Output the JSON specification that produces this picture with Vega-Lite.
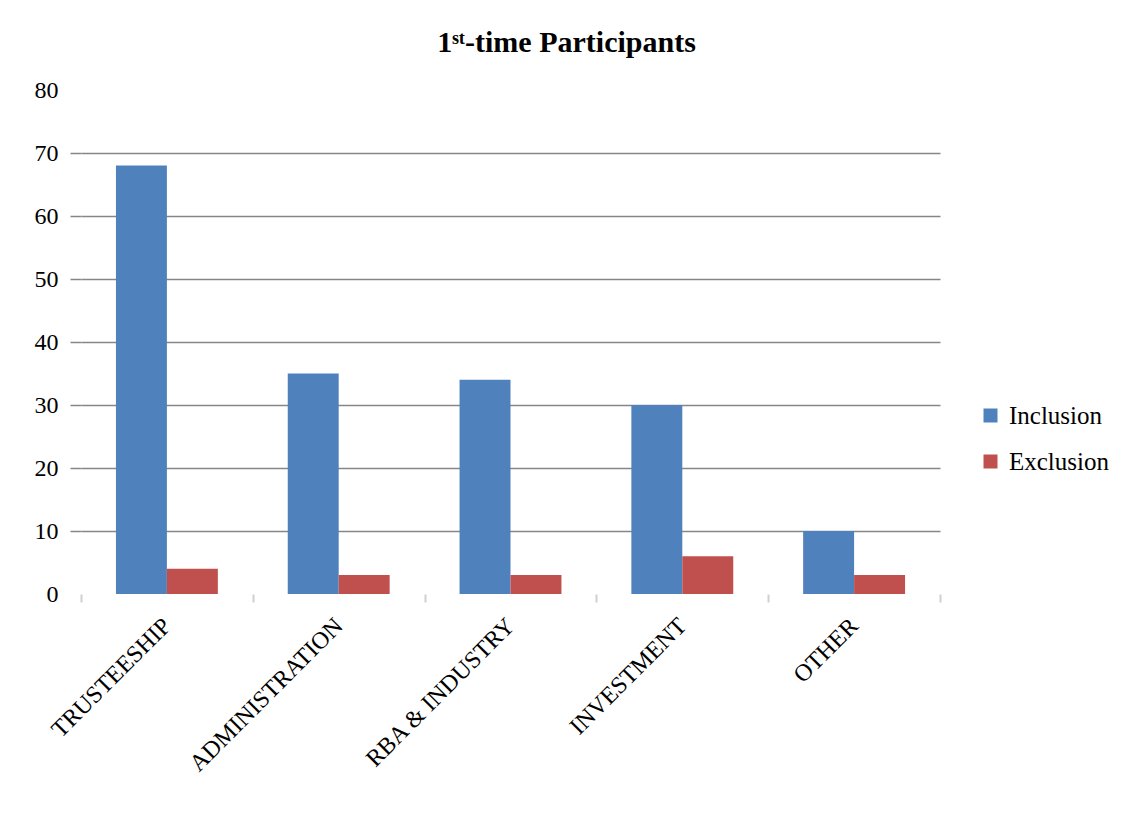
{
  "$schema": "https://vega.github.io/schema/vega-lite/v6.json",
  "autosize": "none",
  "padding": {"left": 81, "top": 90, "right": 184, "bottom": 223},
  "width": 859,
  "height": 504,
  "background": "white",
  "title": {
    "text": "1ˢᵗ-time Participants",
    "font": "Liberation Serif",
    "fontSize": 30,
    "fontWeight": "bold",
    "color": "#000000",
    "anchor": "middle",
    "dx": 56,
    "offset": 20
  },
  "data": {
    "values": [
      {"area": "TRUSTEESHIP", "group": "Inclusion", "count": 68},
      {"area": "TRUSTEESHIP", "group": "Exclusion", "count": 4},
      {"area": "ADMINISTRATION", "group": "Inclusion", "count": 35},
      {"area": "ADMINISTRATION", "group": "Exclusion", "count": 3},
      {"area": "RBA & INDUSTRY", "group": "Inclusion", "count": 34},
      {"area": "RBA & INDUSTRY", "group": "Exclusion", "count": 3},
      {"area": "INVESTMENT", "group": "Inclusion", "count": 30},
      {"area": "INVESTMENT", "group": "Exclusion", "count": 6},
      {"area": "OTHER", "group": "Inclusion", "count": 10},
      {"area": "OTHER", "group": "Exclusion", "count": 3}
    ]
  },
  "mark": {"type": "bar"},
  "encoding": {
    "x": {
      "field": "area",
      "type": "nominal",
      "sort": null,
      "scale": {"paddingInner": 0, "paddingOuter": 0},
      "axis": {
        "title": null,
        "domain": false,
        "tickBand": "extent",
        "ticks": true,
        "tickColor": "#d0d0d0",
        "tickWidth": 2,
        "tickSize": 8,
        "labelAngle": -45,
        "labelAlign": "right",
        "labelBaseline": "middle",
        "labelFont": "Liberation Serif",
        "labelFontSize": 24,
        "labelLimit": 0,
        "labelColor": "#000000",
        "labelPadding": 20
      }
    },
    "xOffset": {
      "field": "group",
      "type": "nominal",
      "sort": ["Inclusion", "Exclusion"],
      "scale": {"paddingInner": 0, "paddingOuter": 0.686}
    },
    "y": {
      "field": "count",
      "type": "quantitative",
      "scale": {"domain": [0, 80], "nice": false},
      "axis": {
        "title": null,
        "domain": false,
        "values": [0, 10, 20, 30, 40, 50, 60, 70, 80],
        "grid": true,
        "gridColor": "#868686",
        "gridWidth": 1.5,
        "gridOpacity": {"condition": {"test": "datum.value == 0 || datum.value == 80", "value": 0}, "value": 1},
        "tickColor": "#868686",
        "tickWidth": 1.5,
        "tickSize": 11,
        "tickOpacity": {"condition": {"test": "datum.value == 0 || datum.value == 80", "value": 0}, "value": 1},
        "labelFont": "Liberation Serif",
        "labelFontSize": 24,
        "labelColor": "#000000",
        "labelPadding": 12
      }
    },
    "color": {
      "field": "group",
      "type": "nominal",
      "sort": ["Inclusion", "Exclusion"],
      "scale": {"domain": ["Inclusion", "Exclusion"], "range": ["#4F81BD", "#C0504D"]},
      "legend": {
        "title": null,
        "orient": "none",
        "legendX": 897,
        "legendY": 313,
        "symbolType": "square",
        "symbolSize": 196,
        "symbolStrokeWidth": 0,
        "labelFont": "Liberation Serif",
        "labelFontSize": 25,
        "labelColor": "#000000",
        "labelOffset": 6,
        "rowPadding": 20
      }
    }
  },
  "config": {
    "view": {"stroke": null}
  }
}
